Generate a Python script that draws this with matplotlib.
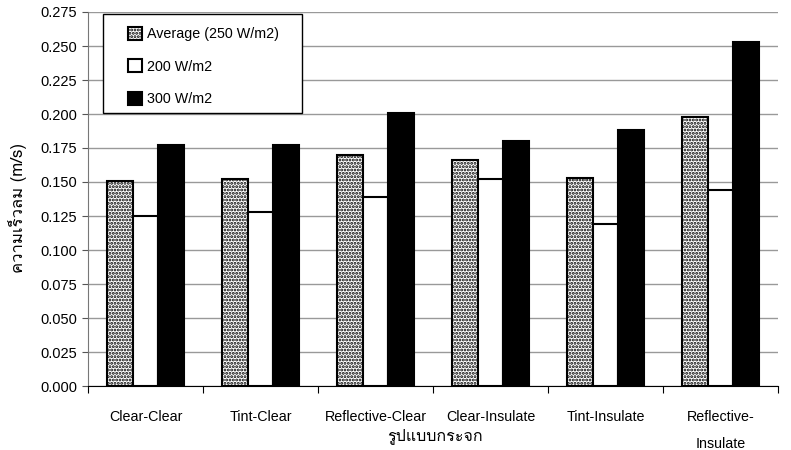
import numpy as np
import matplotlib
matplotlib.use('Agg')
import matplotlib.pyplot as plt
from matplotlib.patches import Rectangle

plt.rcParams['font.family'] = ['Liberation Sans', 'Loma', 'DejaVu Sans']
plt.rcParams['hatch.linewidth'] = 1.4

## Data
categories = ['Clear-Clear', 'Tint-Clear', 'Reflective-Clear', 'Clear-Insulate',
              'Tint-Insulate', 'Reflective-\n\nInsulate']
avg_250 = [0.151, 0.152, 0.170, 0.166, 0.153, 0.198]
w_200 = [0.125, 0.128, 0.139, 0.152, 0.119, 0.144]
w_300 = [0.177, 0.177, 0.201, 0.180, 0.188, 0.253]
series_names = ['Average (250 W/m2)', '200 W/m2', '300 W/m2']
yticks = np.arange(0, 0.2751, 0.025)

fig = plt.figure(figsize=(7.91, 4.5), dpi=100)
ax = fig.add_axes([88 / 791, 1 - 386 / 450, 690 / 791, 374 / 450])

x = np.arange(len(categories))
w = 0.225
ax.bar(x - w, avg_250, w, color='white', edgecolor='black', hatch='.....',
       linewidth=1.5, label=series_names[0], zorder=3)
ax.bar(x, w_200, w, color='white', edgecolor='black',
       linewidth=1.5, label=series_names[1], zorder=3)
ax.bar(x + w, w_300, w, color='black', edgecolor='black',
       linewidth=1.5, label=series_names[2], zorder=3)

ax.set_xlim(-0.5, len(categories) - 0.5)
ax.set_ylim(0, 0.275)
ax.set_yticks(yticks)
ax.set_yticklabels(['%.3f' % v for v in yticks], fontsize=10.5)
ax.yaxis.grid(True, color='#999999', linewidth=1, zorder=0)

## category labels between boundary ticks
ax.set_xticks(np.arange(-0.5, len(categories), 1.0))
ax.set_xticklabels([])
ax.tick_params(axis='x', length=5, color='black')
ax.tick_params(axis='y', length=4, color='#555555', pad=4)
for i, c in enumerate(categories):
    ax.text(i, -0.018, c, ha='center', va='top', fontsize=10.3,
            transform=ax.transData, linespacing=0.95)

for s in ['top', 'right']:
    ax.spines[s].set_visible(False)
ax.spines['left'].set_color('#777777')
ax.spines['bottom'].set_color('black')

fig.text(17 / 791, 1 - 208 / 450, 'ความเร็วลม (m/s)', family=['Loma', 'DejaVu Sans'],
         fontsize=12, rotation=90, ha='center', va='center')
fig.text(435 / 791, 1 - 436 / 450, 'รูปแบบกระจก', family=['Loma', 'DejaVu Sans'],
         fontsize=11.5, ha='center', va='center')

## legend box drawn by hand, legend itself without frame
ax.add_patch(Rectangle((103 / 791, 1 - 113 / 450), 199 / 791, 99 / 450,
                       transform=fig.transFigure, facecolor='white',
                       edgecolor='black', linewidth=1.0, zorder=4, clip_on=False))
leg = ax.legend(loc='upper left', bbox_to_anchor=(128 / 791, 1 - 27 / 450),
                bbox_transform=fig.transFigure, fontsize=10.3,
                frameon=False, borderpad=0, labelspacing=1.27,
                handlelength=1.0, handleheight=1.0,
                handletextpad=0.3, borderaxespad=0)
leg.set_zorder(5)

fig.savefig('out.png', dpi=100)
